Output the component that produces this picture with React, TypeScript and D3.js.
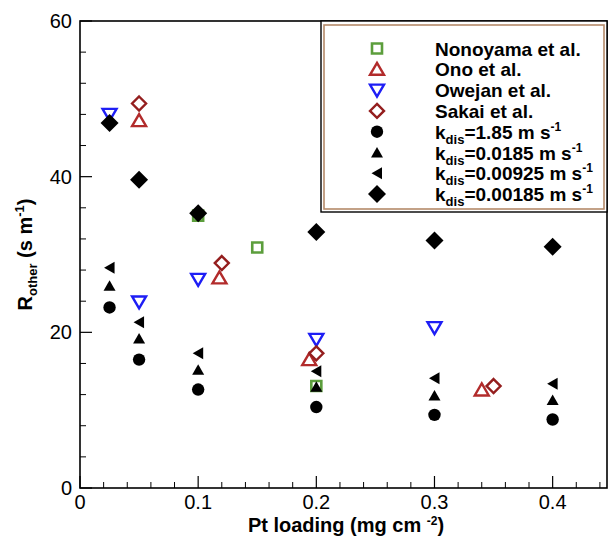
import React from "react";
import * as d3 from "d3";

// ---- data ----
const nonoyamaX = [0.1, 0.15, 0.2];
const nonoyamaY = [35.0, 30.9, 13.1];
const onoX = [0.05, 0.118, 0.194, 0.34];
const onoY = [47.2, 27.0, 16.5, 12.6];
const owejanX = [0.025, 0.05, 0.1, 0.2, 0.3];
const owejanY = [48.0, 23.9, 26.8, 19.1, 20.6];
const sakaiX = [0.05, 0.12, 0.2, 0.35];
const sakaiY = [49.4, 28.9, 17.3, 13.1];
const modelX = [0.025, 0.05, 0.1, 0.2, 0.3, 0.4];
const k185 = [23.2, 16.5, 12.65, 10.4, 9.4, 8.8];
const k0185 = [26.0, 19.2, 15.2, 13.0, 11.9, 11.3];
const k00925 = [28.3, 21.3, 17.3, 15.0, 14.1, 13.4];
const k00185 = [46.9, 39.6, 35.3, 32.9, 31.8, 31.0];

const xMajor = [0, 0.1, 0.2, 0.3, 0.4];
const xMajorLabels = ["0", "0.1", "0.2", "0.3", "0.4"];
const yMajor = [0, 20, 40, 60];
const yMajorLabels = ["0", "20", "40", "60"];

const legendNames = ["Nonoyama et al.", "Ono et al.", "Owejan et al.", "Sakai et al."];
const kdisLabels = ["1.85", "0.0185", "0.00925", "0.00185"];

const FONT = "'Liberation Sans', Arial, Helvetica, sans-serif";

type Shape = "sqOpen" | "triUpOpen" | "triDownOpen" | "diaOpen" | "circle" | "triUp" | "triLeft" | "diamond";

const styles: Record<Shape, { fill: string; stroke: string; sw: number }> = {
  sqOpen: { fill: "none", stroke: "#5c9e3c", sw: 2.6 },
  triUpOpen: { fill: "none", stroke: "#b22b2b", sw: 2.4 },
  triDownOpen: { fill: "none", stroke: "#1e1ef5", sw: 2.4 },
  diaOpen: { fill: "none", stroke: "#941e1e", sw: 2.4 },
  circle: { fill: "#000", stroke: "none", sw: 0 },
  triUp: { fill: "#000", stroke: "none", sw: 0 },
  triLeft: { fill: "#000", stroke: "none", sw: 0 },
  diamond: { fill: "#000", stroke: "none", sw: 0 },
};

function shapePath(s: Shape): string {
  switch (s) {
    case "sqOpen":
      return "M-5,-5H5V5H-5Z";
    case "triUpOpen":
      return "M0,-6.5L7,5.5L-7,5.5Z";
    case "triDownOpen":
      return "M0,6.5L7,-5.5L-7,-5.5Z";
    case "diaOpen":
      return "M0,-7L7,0L0,7L-7,0Z";
    case "circle":
      return "M6.2,0A6.2,6.2 0 1,1 -6.2,0A6.2,6.2 0 1,1 6.2,0Z";
    case "triUp":
      return "M0,-5.5L6,5L-6,5Z";
    case "triLeft":
      return "M-5.5,0L5,-6L5,6Z";
    case "diamond":
      return "M0,-9L9,0L0,9L-9,0Z";
  }
}

function Marker({ s, x, y }: { s: Shape; x: number; y: number }) {
  const st = styles[s];
  return (
    <path
      d={shapePath(s)}
      transform={`translate(${x},${y})`}
      fill={st.fill}
      stroke={st.stroke}
      strokeWidth={st.sw}
      strokeLinejoin="miter"
    />
  );
}

export default function App() {
  const W = 613;
  const H = 538;
  const left = 80;
  const right = 607;
  const top = 21;
  const bottom = 488;

  const x = d3.scaleLinear().domain([0, 0.446]).range([left, right]);
  const y = d3.scaleLinear().domain([0, 60]).range([bottom, top]);

  const xMinor = d3.range(1, 23).map((i) => i * 0.02).filter((v) => Math.abs(v * 10 - Math.round(v * 10)) > 1e-6);
  const yMinor = d3.range(1, 15).map((i) => i * 4).filter((v) => v % 20 !== 0);

  const series: { xs: number[]; ys: number[]; s: Shape }[] = [
    { xs: nonoyamaX, ys: nonoyamaY, s: "sqOpen" },
    { xs: onoX, ys: onoY, s: "triUpOpen" },
    { xs: owejanX, ys: owejanY, s: "triDownOpen" },
    { xs: sakaiX, ys: sakaiY, s: "diaOpen" },
    { xs: modelX, ys: k185, s: "circle" },
    { xs: modelX, ys: k0185, s: "triUp" },
    { xs: modelX, ys: k00925, s: "triLeft" },
    { xs: modelX, ys: k00185, s: "diamond" },
  ];

  const legendShapes: Shape[] = ["sqOpen", "triUpOpen", "triDownOpen", "diaOpen", "circle", "triUp", "triLeft", "diamond"];
  const legendY0 = 48.5;
  const legendDy = 20.8;
  const legSymX = 377;
  const legTextX = 435;

  return (
    <svg
      width={W}
      height={H}
      style={{ position: "absolute", left: 0, top: 0, background: "#fff" }}
      fontFamily={FONT}
    >
      <rect x={0} y={0} width={W} height={H} fill="#fff" />

      {/* minor ticks */}
      {xMinor.map((v, i) => (
        <line key={"xm" + i} x1={x(v)} x2={x(v)} y1={bottom} y2={bottom - 6} stroke="#000" strokeWidth={1} />
      ))}
      {xMajor.map((v, i) => (
        <line key={"xM" + i} x1={x(v)} x2={x(v)} y1={bottom} y2={bottom - 12} stroke="#000" strokeWidth={1.2} />
      ))}
      {yMinor.map((v, i) => (
        <line key={"ym" + i} x1={left} x2={left + 6} y1={y(v)} y2={y(v)} stroke="#000" strokeWidth={1} />
      ))}
      {yMajor.map((v, i) => (
        <line key={"yM" + i} x1={left} x2={left + 12} y1={y(v)} y2={y(v)} stroke="#000" strokeWidth={1.2} />
      ))}

      {/* tick labels */}
      {xMajor.map((v, i) => (
        <text key={"xl" + i} x={x(v)} y={509} textAnchor="middle" fontSize={20} fill="#000">
          {xMajorLabels[i]}
        </text>
      ))}
      {yMajor.map((v, i) => (
        <text key={"yl" + i} x={72} y={y(v) + 7} textAnchor="end" fontSize={20} fill="#000">
          {yMajorLabels[i]}
        </text>
      ))}

      {/* axis titles */}
      <text x={346} y={532} textAnchor="middle" fontSize={20} fontWeight="bold" fill="#000">
        Pt loading (mg cm{" "}
        <tspan fontSize={12} dy={-7}>-2</tspan>
        <tspan dy={7}>)</tspan>
      </text>
      <text
        transform={`translate(32,${(top + bottom) / 2}) rotate(-90)`}
        textAnchor="middle"
        fontSize={20}
        fontWeight="bold"
        fill="#000"
      >
        R<tspan fontSize={13} dy={5}>other</tspan>
        <tspan dy={-5}> (s m</tspan>
        <tspan fontSize={13} dy={-8}>-1</tspan>
        <tspan dy={8}>)</tspan>
      </text>

      {/* data */}
      {series.map((se, si) =>
        se.xs.map((xv, i) => <Marker key={si + "-" + i} s={se.s} x={x(xv)} y={y(se.ys[i])} />)
      )}

      {/* frame */}
      <rect x={left} y={top} width={right - left} height={bottom - top} fill="none" stroke="#000" strokeWidth={1.6} />

      {/* legend */}
      <rect x={321} y={top} width={right - 321} height={191} fill="#fff" stroke="#000" strokeWidth={1.4} />
      <rect x={324} y={25} width={280} height={184} fill="#fff" stroke="#b58a6a" strokeWidth={1.6} />
      {legendShapes.map((s, i) => (
        <Marker key={"lg" + i} s={s} x={legSymX} y={legendY0 + i * legendDy} />
      ))}
      {legendNames.map((n, i) => (
        <text key={"ln" + i} x={legTextX} y={legendY0 + i * legendDy + 7} fontSize={19} fontWeight="bold" fill="#000">
          {n}
        </text>
      ))}
      {kdisLabels.map((k, i) => (
        <text
          key={"lk" + i}
          x={legTextX}
          y={legendY0 + (i + 4) * legendDy + 7}
          fontSize={19}
          fontWeight="bold"
          fill="#000"
        >
          k<tspan fontSize={13} dy={5}>dis</tspan>
          <tspan dy={-5}>={k} m s</tspan>
          <tspan fontSize={12} dy={-8}>-1</tspan>
        </text>
      ))}
    </svg>
  );
}
